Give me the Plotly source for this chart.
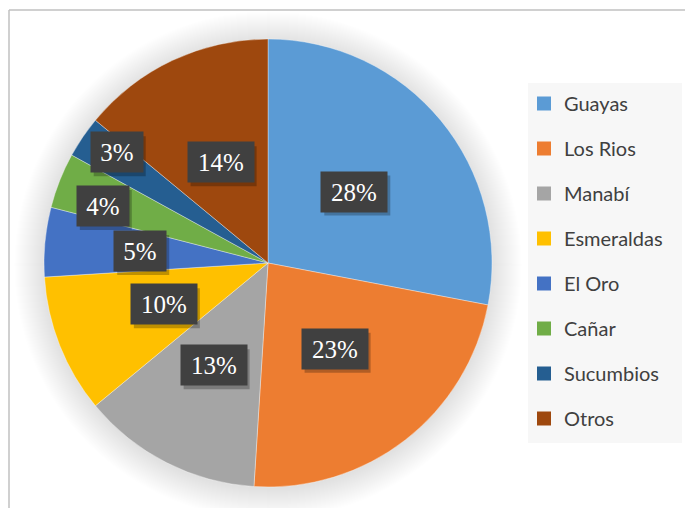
import math
import plotly.graph_objects as go

# data
labels = ["Guayas", "Los Rios", "Manabí", "Esmeraldas", "El Oro", "Cañar", "Sucumbios", "Otros"]
shares = [28, 23, 13, 10, 5, 4, 3, 14]
colors = ["#5B9BD5", "#ED7D31", "#A5A5A5", "#FFC000", "#4472C4", "#70AD47", "#255E91", "#9E480E"]

# label placement (fraction of radius + angular nudge in degrees, Excel "best fit" look)
label_rfrac = [0.50, 0.485, 0.517, 0.50, 0.573, 0.78, 0.837, 0.497]
label_nudge = [0, 0, 1, 0, 0, -2.6, 2, 0]

W, H = 685, 508
cx, cy, R = 268, 263, 224

fig = go.Figure()

fig.add_trace(go.Pie(
    labels=labels, values=shares, sort=False, direction="clockwise", rotation=0,
    marker=dict(colors=colors, line=dict(color="rgba(255,255,255,0.45)", width=0.8)),
    textinfo="none", hoverinfo="label+percent", showlegend=False,
    domain=dict(x=[(cx - R) / W, (cx + R) / W], y=[1 - (cy + R) / H, 1 - (cy - R) / H]),
))

# legend entries via dummy traces so the spacing can be opened up
for name, col in zip(labels, colors):
    fig.add_trace(go.Scatter(
        x=[None], y=[None], mode="markers", name=name, legendgroup=name,
        marker=dict(symbol="square", size=14, color=col),
    ))


def px_rect(x0, y0, x1, y1, **kw):
    return dict(type="rect", xref="paper", yref="paper",
                x0=x0 / W, x1=x1 / W, y0=1 - y1 / H, y1=1 - y0 / H, **kw)


# soft shadow around the pie
shapes = []
for k in range(1, 31):
    r = R + k
    shapes.append(dict(
        type="circle", xref="paper", yref="paper", layer="below",
        x0=(cx - r) / W, x1=(cx + r) / W, y0=1 - (cy + 2 + r) / H, y1=1 - (cy + 2 - r) / H,
        fillcolor="rgba(0,0,0,0.0045)", line=dict(width=0),
    ))
# legend background
shapes.append(px_rect(528, 83, 682, 443, layer="below", fillcolor="#F7F7F7", line=dict(width=0)))
# chart frame
shapes.append(dict(type="line", xref="paper", yref="paper", x0=9 / W, x1=1, y0=1 - 10 / H, y1=1 - 10 / H,
                   line=dict(color="#C0C0C0", width=1.5)))
shapes.append(dict(type="line", xref="paper", yref="paper", x0=9 / W, x1=9 / W, y0=0, y1=1 - 10 / H,
                   line=dict(color="#C0C0C0", width=1.5)))

# data labels: dark boxes with a drop shadow
total = sum(shares)
annotations = []
cum = 0
pad = 7
for v, f, nd in zip(shares, label_rfrac, label_nudge):
    mid = (cum + v / 2) / total * 2 * math.pi + math.radians(nd)
    cum += v
    px = cx + f * R * math.sin(mid)
    py = cy - f * R * math.cos(mid)
    txt = f"{round(100 * v / total)}%"
    bw = 14 * len(txt) + 10
    boxw, boxh = bw + 2 * pad, 40
    shapes.append(px_rect(px - boxw / 2 + 3, py - boxh / 2 + 4, px + boxw / 2 + 3, py + boxh / 2 + 4,
                          fillcolor="rgba(0,0,0,0.25)", line=dict(width=0)))
    annotations.append(dict(
        x=px / W, y=1 - py / H, xref="paper", yref="paper",
        text=txt, showarrow=False, width=bw, height=boxh - 2 * pad, bgcolor="#404040", borderpad=pad,
        font=dict(family="Liberation Serif, Times New Roman, serif", size=25, color="white"),
        xanchor="center", yanchor="middle",
    ))

fig.update_layout(
    width=W, height=H, margin=dict(l=0, r=0, t=0, b=0),
    paper_bgcolor="white", plot_bgcolor="rgba(0,0,0,0)",
    xaxis=dict(visible=False), yaxis=dict(visible=False),
    shapes=shapes, annotations=annotations,
    legend=dict(x=524 / W, y=1 - 84 / H, xanchor="left", yanchor="top",
                bgcolor="rgba(0,0,0,0)", tracegroupgap=16,
                font=dict(family="Lato, Open Sans, sans-serif", size=20, color="#404040")),
)

fig.write_html("out.html", config={"displayModeBar": False},
               post_script="document.body.style.margin='0';")
